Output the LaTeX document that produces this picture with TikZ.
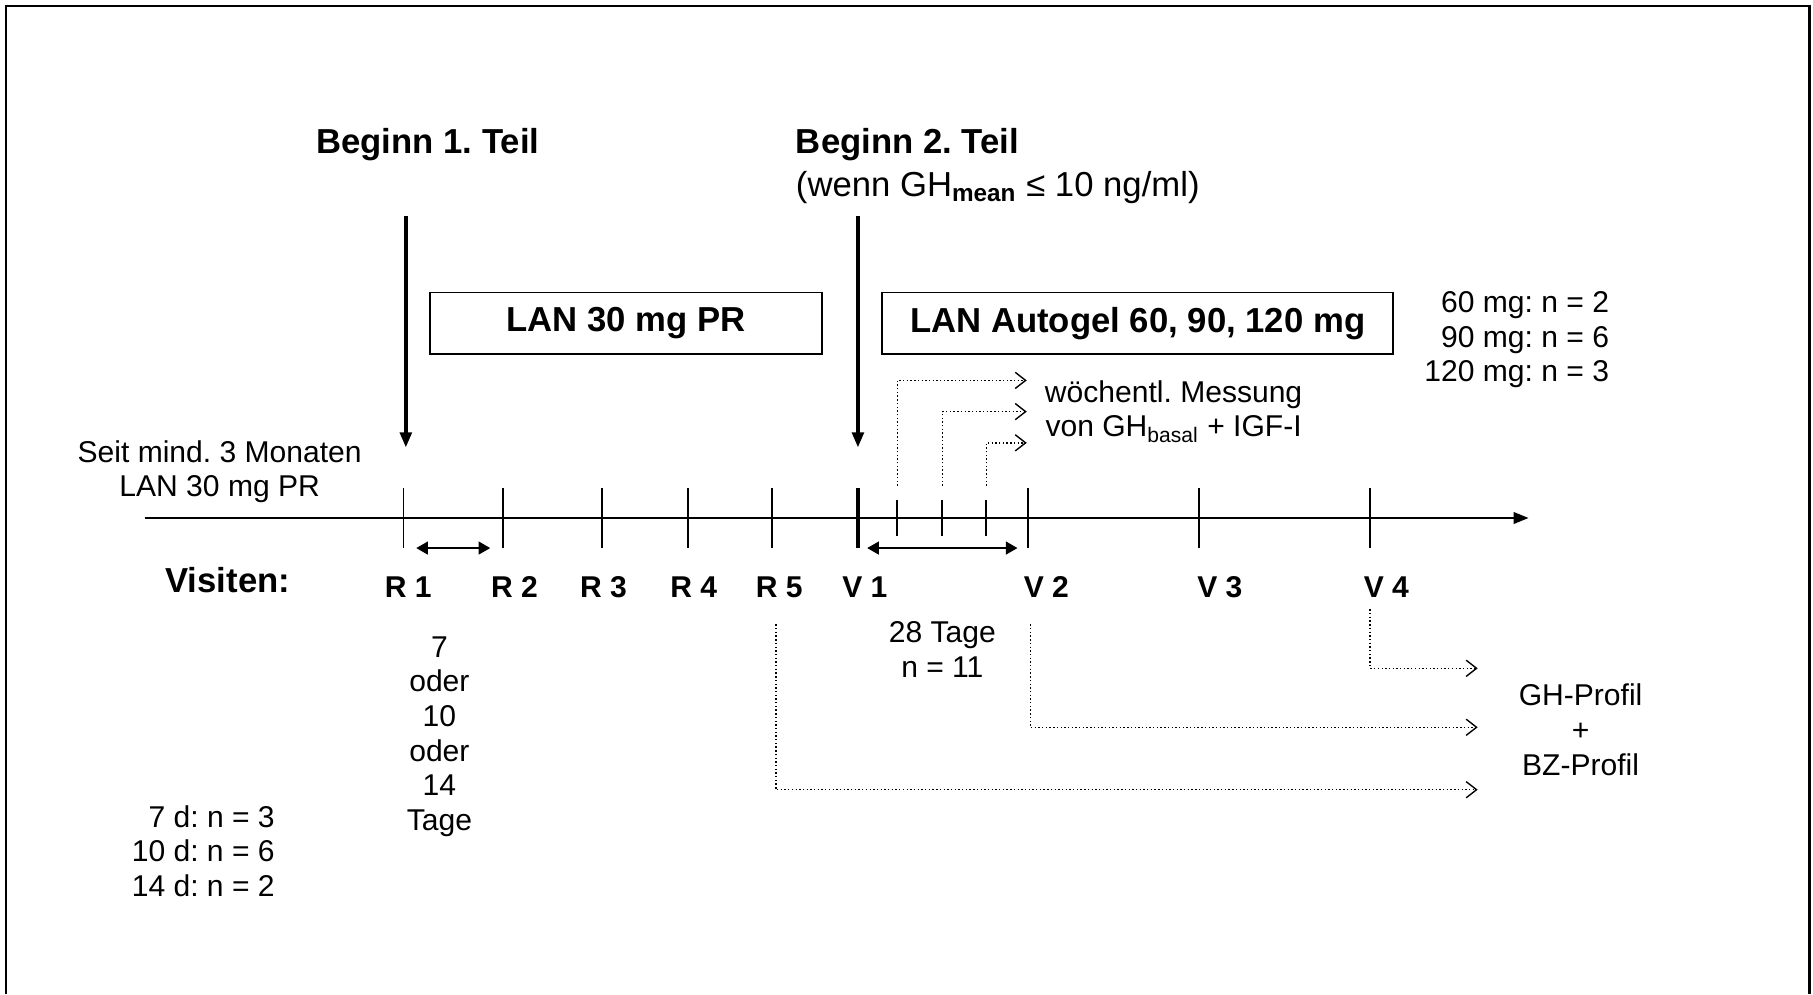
\documentclass[tikz,border=0pt]{standalone}
\usepackage{fontspec}
\setmainfont{Liberation Sans}
\usetikzlibrary{arrows.meta}
\frenchspacing

\begin{document}
\begin{tikzpicture}[x=0.5pt,y=-0.5pt]
\tikzstyle{txt}=[inner sep=0pt, align=center, font=\fontsize{13pt}{15pt}\selectfont]
\tikzstyle{ttl}=[inner sep=0pt, align=left, font=\fontsize{15pt}{18pt}\selectfont\bfseries]
\tikzstyle{visit}=[inner sep=0pt, font=\fontsize{13pt}{15pt}\selectfont\bfseries]
\tikzstyle{drug}=[draw, line width=0.8pt, inner sep=0pt, font=\fontsize{15pt}{18pt}\selectfont\bfseries, minimum height=26.5pt]
\tikzstyle{tick}=[inner sep=0pt, minimum width=0pt, minimum height=25.5pt]
\tikzstyle{small}=[inner sep=0pt, minimum width=0pt, minimum height=15pt]
\tikzstyle{big}=[line width=1.5pt, -{Triangle[length=6.5pt,width=5pt]}]
\tikzstyle{span}=[line width=0.8pt, {Triangle[length=5pt,width=5.5pt]}-{Triangle[length=5pt,width=5.5pt]}]
\tikzstyle{dot}=[line width=0.6pt, densely dotted, -{Straight Barb[length=4.5pt,width=7pt,line width=0.6pt]}]

\useasboundingbox (0,0) rectangle (1568,860);

% frame
\coordinate (FL) at (5,860);
\coordinate (FTL) at (5,5);
\coordinate (FTR) at (1565,5);
\coordinate (FR) at (1565,860);
\draw[line width=1pt] (FL) -- (FTL) -- (FTR) -- (FR);

% headings
\node[ttl] (B1) at (370,125) {Beginn 1. Teil};
\node[ttl, anchor=west] (B2) at (688,125) {Beginn 2. Teil};
\node[txt, anchor=west, font=\fontsize{15pt}{18pt}\selectfont] (B2c) at (688,162) {(wenn GH\textsubscript{\bfseries mean} ≤ 10 ng/ml)};

\coordinate (A1s) at (351,187);
\coordinate (A1e) at (351,387);
\coordinate (A2s) at (742,187);
\coordinate (A2e) at (742,387);
\draw[big] (A1s) -- (A1e);
\draw[big] (A2s) -- (A2e);

% drug boxes
\node[drug, minimum width=169.5pt] (P1) at (541.5,279.5) {LAN 30 mg PR};
\node[drug, minimum width=221pt] (P2) at (984,279.5) {LAN Autogel 60, 90, 120 mg};
\node[txt, align=right, anchor=east] (Dose) at (1392,294) {60 mg: n = 2\\90 mg: n = 6\\120 mg: n = 3};

% time axis
\coordinate (X0) at (125,448);
\coordinate (X1) at (1322,448);
\draw[line width=1pt, -{Triangle[length=6.5pt,width=5pt]}] (X0) -- (X1);

\node[tick] (R1) at (349,448) {};
\node[tick] (R2) at (435,448) {};
\node[tick] (R3) at (521,448) {};
\node[tick] (R4) at (595,448) {};
\node[tick] (R5) at (668,448) {};
\node[tick] (V1) at (742,448) {};
\node[small] (W1) at (776,448) {};
\node[small] (W2) at (815,448) {};
\node[small] (W3) at (853,448) {};
\node[tick] (V2) at (889,448) {};
\node[tick] (V3) at (1037,448) {};
\node[tick] (V4) at (1185,448) {};

\draw[line width=0.8pt] (R1.north) -- (R1.south);
\draw[line width=0.8pt] (R2.north) -- (R2.south);
\draw[line width=0.8pt] (R3.north) -- (R3.south);
\draw[line width=0.8pt] (R4.north) -- (R4.south);
\draw[line width=0.8pt] (R5.north) -- (R5.south);
\draw[line width=1.5pt] (V1.north) -- (V1.south);
\draw[line width=0.8pt] (W1.north) -- (W1.south);
\draw[line width=0.8pt] (W2.north) -- (W2.south);
\draw[line width=0.8pt] (W3.north) -- (W3.south);
\draw[line width=0.8pt] (V2.north) -- (V2.south);
\draw[line width=0.8pt] (V3.north) -- (V3.south);
\draw[line width=0.8pt] (V4.north) -- (V4.south);

% intervals
\coordinate (I1a) at (360,474);
\coordinate (I1b) at (424,474);
\coordinate (I2a) at (750,474);
\coordinate (I2b) at (880,474);
\draw[span] (I1a) -- (I1b);
\draw[span] (I2a) -- (I2b);

% labels
\node[txt] (Prior) at (190,408) {Seit mind. 3 Monaten\\LAN 30 mg PR};
\node[ttl] (Vis) at (197,502) {Visiten:};
\node[visit] (LR1) at (353,508) {R 1};
\node[visit] (LR2) at (445,508) {R 2};
\node[visit] (LR3) at (522,508) {R 3};
\node[visit] (LR4) at (600,508) {R 4};
\node[visit] (LR5) at (674,508) {R 5};
\node[visit] (LV1) at (748,508) {V 1};
\node[visit] (LV2) at (905,508) {V 2};
\node[visit] (LV3) at (1055,508) {V 3};
\node[visit] (LV4) at (1199,508) {V 4};

\node[txt] (Days) at (380,637) {7\\oder\\10\\oder\\14\\Tage};
\node[txt, align=right, anchor=east] (DN) at (238,736) {7 d: n = 3\\10 d: n = 6\\14 d: n = 2};
\node[txt] (Four) at (815,562) {28 Tage\\n = 11};

% weekly measurements
\node[txt] (Week) at (1015,356) {wöchentl. Messung\\von GH\textsubscript{basal} + IGF-I};
\coordinate (W1a) at (776,420);
\coordinate (W1c) at (776,329);
\coordinate (W1d) at (888,329);
\coordinate (W2a) at (815,420);
\coordinate (W2c) at (815,356);
\coordinate (W2d) at (888,356);
\coordinate (W3a) at (853,420);
\coordinate (W3c) at (853,383);
\coordinate (W3d) at (888,383);
\draw[dot] (W1a) -- (W1c) -- (W1d);
\draw[dot] (W2a) -- (W2c) -- (W2d);
\draw[dot] (W3a) -- (W3c) -- (W3d);

% profiles
\node[txt] (Prof) at (1367,631) {GH-Profil\\+\\BZ-Profil};
\coordinate (P4a) at (1185,527);
\coordinate (P4c) at (1185,578);
\coordinate (P4d) at (1278,578);
\coordinate (P2a) at (891,540);
\coordinate (P2c) at (891,629);
\coordinate (P2d) at (1278,629);
\coordinate (P5a) at (671,540);
\coordinate (P5c) at (671,683);
\coordinate (P5d) at (1278,683);
\draw[dot] (P4a) -- (P4c) -- (P4d);
\draw[dot] (P2a) -- (P2c) -- (P2d);
\draw[dot] (P5a) -- (P5c) -- (P5d);

\end{tikzpicture}
\end{document}
